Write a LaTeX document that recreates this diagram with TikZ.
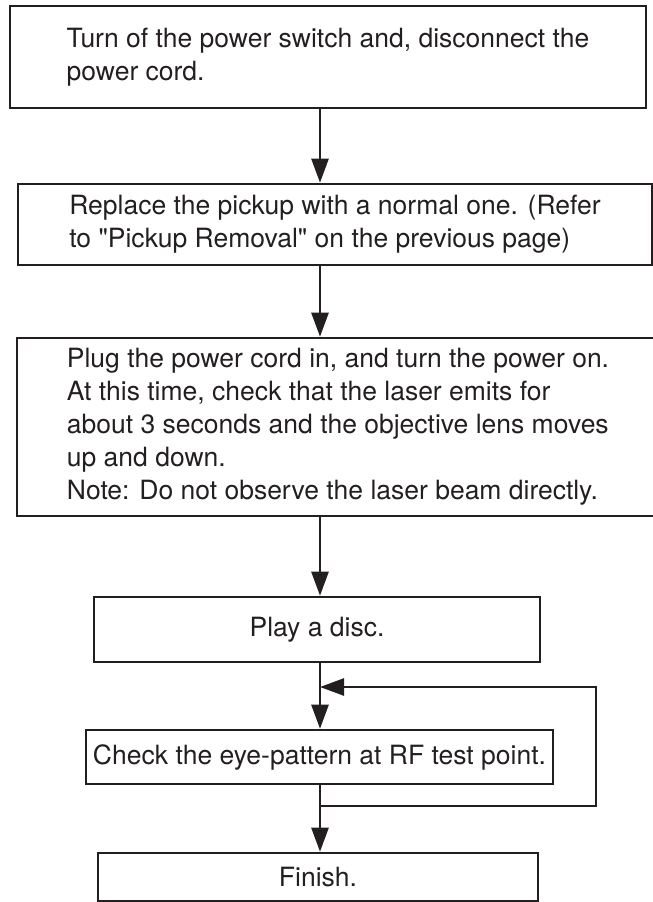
\documentclass[tikz,border=0pt]{standalone}
\usepackage{fontspec}
\setmainfont{TeX Gyre Heros}[Ligatures=TeXOff]
\usetikzlibrary{arrows.meta}
\definecolor{ink}{RGB}{35,31,32}
\begin{document}
\begin{tikzpicture}[x=1pt,y=-1pt,
  box/.style={draw=ink, line width=2.6pt, rectangle, inner sep=0pt, align=left,
    text=ink, font=\fontsize{26.5}{33}\selectfont},
  arr/.style={draw=ink, line width=2.6pt, -{Triangle[length=24pt,width=17pt]}}]
\useasboundingbox (0,0) rectangle (653,902);

\coordinate (axis) at (320,0);

\node[box, minimum width=636pt, minimum height=102pt] (b1) at (328,57)
  {Turn of the power switch and, disconnect the\\power cord.};
\node[box, minimum width=634pt, minimum height=81pt] (b2) at (335,224.5)
  {Replace the pickup with a normal one. (Refer\\to "Pickup Removal" on the previous page)};
\node[box, minimum width=642pt, minimum height=178pt] (b3) at (338,427)
  {Plug the power cord in, and turn the power on.\\At this time, check that the laser emits for\\about 3 seconds and the objective lens moves\\up and down.\\Note: Do not observe the laser beam directly.};
\node[box, minimum width=446pt, minimum height=65pt] (b4) at (317,629.5)
  {Play a disc.};
\node[box, minimum width=467pt, minimum height=54pt] (b5) at (319.5,757)
  {Check the eye-pattern at RF test point.};
\node[box, minimum width=440pt, minimum height=48pt] (b6) at (318,877)
  {Finish.};

\draw[arr] (b1.south -| axis) -- (b2.north -| axis);
\draw[arr] (b2.south -| axis) -- (b3.north -| axis);
\draw[arr] (b3.south -| axis) -- (b4.north -| axis);
\draw[arr] (b4.south -| axis) -- (b5.north -| axis);
\draw[arr] (b5.south -| axis) -- (b6.north -| axis);

\coordinate (jbot) at (320,806);
\coordinate (jtop) at (320,687);
\coordinate (loopc) at (596,806);
\draw[arr] (jbot) -- (loopc) |- (jtop);
\end{tikzpicture}
\end{document}
